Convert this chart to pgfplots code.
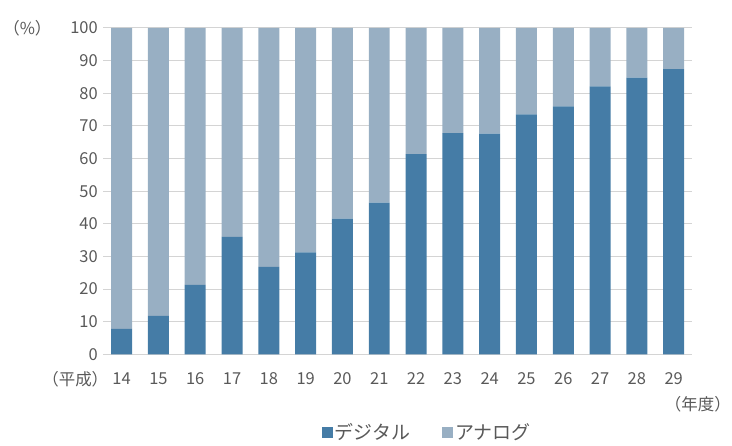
\documentclass[border=0pt]{standalone}
\usepackage{pgfplots}
\pgfplotsset{compat=1.18}
\usepackage{fontspec}
\setmainfont{Noto Sans CJK JP}
\definecolor{dig}{HTML}{457CA6}
\definecolor{ana}{HTML}{98AFC3}
\definecolor{tx}{HTML}{595959}
\begin{document}
\begin{tikzpicture}[x=1bp,y=1bp]
\path (0,0) rectangle (732,440);
\begin{axis}[
  at={(102bp,85bp)}, anchor=south west,
  scale only axis, width=590bp, height=327bp,
  ybar stacked, bar width=0.57,
  xmin=13.5, xmax=29.5, ymin=0, ymax=100,
  xtick={14,...,29}, ytick={0,10,...,100},
  axis line style={draw=none},
  major tick length=0pt,
  ymajorgrids, grid style={draw=black!17, line width=1bp},
  tick label style={font=\fontsize{16.5bp}{18bp}\selectfont, text=tx},
  /pgf/number format/assume math mode=true,
  yticklabel style={xshift=-2bp},
  xticklabel style={yshift=-15bp},
  legend style={draw=none, at={(0.55,-0.2)}, anchor=north, legend columns=2,
    font=\fontsize{19bp}{20bp}\selectfont, text=tx,
    /tikz/every even column/.append style={column sep=30bp}},
  legend image code/.code={\fill[#1] (0bp,-5.5bp) rectangle (11bp,5.5bp);},
]
\addplot[fill=dig, draw=none] coordinates {
(14,7.8) (15,11.8) (16,21.3) (17,36.0) (18,26.8) (19,31.2) (20,41.6) (21,46.5)
(22,61.3) (23,67.8) (24,67.6) (25,73.5) (26,76.0) (27,82.1) (28,84.8) (29,87.4)};
\addplot[fill=ana, draw=none] coordinates {
(14,92.2) (15,88.2) (16,78.7) (17,64.0) (18,73.2) (19,68.8) (20,58.4) (21,53.5)
(22,38.7) (23,32.2) (24,32.4) (25,26.5) (26,24.0) (27,17.9) (28,15.2) (29,12.6)};
\legend{デジタル, アナログ}
\end{axis}
\node[text=tx, font=\fontsize{16.5bp}{18bp}\selectfont] at (26,412) {（\%）};
\node[text=tx, font=\fontsize{16.5bp}{18bp}\selectfont] at (74,60) {（平成）};
\node[text=tx, font=\fontsize{16.5bp}{18bp}\selectfont, inner sep=0pt, anchor=east] at (731,35) {（年度）};
\end{tikzpicture}
\end{document}
